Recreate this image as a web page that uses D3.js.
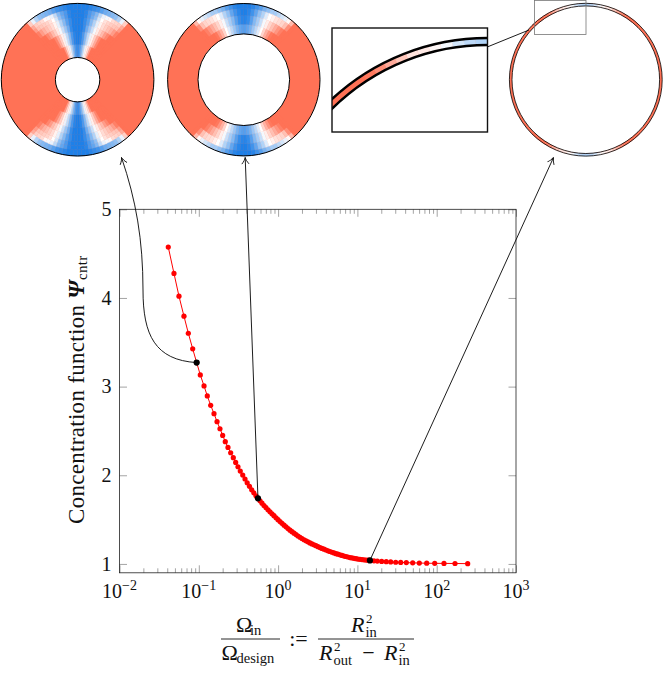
<!DOCTYPE html>
<html><head><meta charset="utf-8">
<script src="https://cdnjs.cloudflare.com/ajax/libs/d3/7.8.5/d3.min.js"></script>
<style>html,body{margin:0;padding:0;background:#fff}svg{display:block}text{font-family:"Liberation Serif",serif;fill:#111}</style>
</head><body><svg id="c" width="664" height="673"></svg>
<script>
// log10 of Omega_in / Omega_design
const logOmega = [-1.385,-1.313,-1.250,-1.187,-1.132,-1.077,-1.027,-0.981,-0.934,-0.893,-0.850,-0.808,-0.770,-0.733,-0.699,-0.666,-0.632,-0.598,-0.565,-0.535,-0.506,-0.477,-0.446,-0.417,-0.390,-0.361,-0.333,-0.306,-0.279,-0.254,-0.228,-0.203,-0.178,-0.153,-0.127,-0.102,-0.077,-0.052,-0.026,-0.001,0.024,0.049,0.075,0.100,0.125,0.150,0.175,0.201,0.226,0.251,0.276,0.301,0.327,0.352,0.377,0.402,0.427,0.453,0.478,0.503,0.528,0.553,0.579,0.604,0.629,0.654,0.680,0.705,0.730,0.755,0.780,0.806,0.831,0.856,0.881,0.906,0.932,0.957,0.982,1.007,1.032,1.058,1.083,1.108,1.133,1.158,1.209,1.251,1.306,1.364,1.420,1.483,1.546,1.617,1.697,1.781,1.874,1.975,2.092,2.231,2.391];
const psiCntr = [4.574,4.277,4.020,3.794,3.602,3.426,3.271,3.132,3.008,2.895,2.789,2.695,2.605,2.525,2.450,2.379,2.314,2.254,2.198,2.145,2.096,2.047,2.002,1.958,1.915,1.875,1.836,1.802,1.768,1.740,1.712,1.685,1.659,1.634,1.610,1.588,1.565,1.544,1.521,1.499,1.478,1.458,1.437,1.418,1.399,1.381,1.364,1.347,1.331,1.315,1.301,1.287,1.273,1.261,1.249,1.237,1.226,1.216,1.206,1.195,1.185,1.175,1.166,1.157,1.148,1.140,1.132,1.124,1.116,1.110,1.103,1.096,1.089,1.084,1.078,1.072,1.068,1.063,1.059,1.055,1.052,1.049,1.046,1.044,1.042,1.040,1.035,1.032,1.028,1.025,1.023,1.019,1.017,1.015,1.012,1.010,1.008,1.007,1.006,1.005,1.003];
const highlightIdx = [6, 29, 85];
const xTickExp = [-2,-1,0,1,2,3];
const yTicks = [1,2,3,4,5];
// field values, quadrant columns every 3 degrees from the pole; rows outermost ring first
const disc1Rings = [76.3,70,66,62,55,48,35,22.2];
const disc1Field = [
 [-1,-1,-1,-.95,-.9,-.85,-.75,-.65,-.6,-.55,-.5,-.35,-.1,.35,1],
 [-1,-1,-.95,-.8,-.7,-.55,-.3,-.1,-.05,.05,.25,.3,.35,.6,1],
 [-1,-1,-.95,-.8,-.65,-.5,-.2,0,.2,.3,.35,.4,.45,.7,1],
 [-1,-1,-.9,-.75,-.55,-.35,-.12,.08,.25,.35,.45,.55,.7,.9,1],
 [-1,-1,-.9,-.65,-.45,-.25,-.05,.15,.35,.5,.7,.85,1,1,1],
 [-1,-.95,-.8,-.55,-.3,-.1,.1,.35,.6,.85,1,1,1,1,1],
 [-.9,-.8,-.6,-.35,-.1,.1,.3,.7,1,1,1,1,1,1,1]];
const disc2Rings = [76.2,71,64,55,45.8];
const disc2Field = [
 [-1,-1,-.95,-.85,-.75,-.6,-.5,-.4,-.4,-.3,-.2,-.1,.05,.5,1],
 [-1,-.95,-.85,-.7,-.5,-.35,-.15,0,.1,.2,.25,.3,.45,.8,1],
 [-.95,-.9,-.75,-.55,-.4,-.25,-.05,.12,.3,.45,.6,.75,.9,1,1],
 [-.75,-.7,-.6,-.45,-.3,-.15,0,.3,.55,.75,.95,1,1,1,1]];
const disc3Field = [[-.35,-.3,-.2,-.05,.05,.15,.2,.4,.6,.8,.95,1,1,1,1]];

const svg = d3.select("#c");
const color = d3.scaleLinear().domain([-1,0,1]).range(["#1e80e8","#ffffff","#ff7256"]);
const stepA = Math.PI/60;

function drawField(g, rings, field){
  const R = rings[0], r = rings[rings.length-1];
  const arc = d3.arc();
  g.append("path").attr("fill",color(1)).attr("d",arc({innerRadius:r,outerRadius:R,startAngle:0,endAngle:2*Math.PI}));
  const cells=[];
  field.forEach((row,i)=>row.forEach((v,j)=>{
    [[1,0],[-1,0],[1,1],[-1,1]].forEach(([sx,flip])=>{
      let a0=j*stepA,a1=(j+1)*stepA;
      if(flip){a0=Math.PI-a0;a1=Math.PI-a1;}
      cells.push({innerRadius:rings[i+1],outerRadius:rings[i],startAngle:sx*a0,endAngle:sx*a1,v});
    });
  }));
  g.selectAll("path.cell").data(cells).join("path").attr("class","cell")
    .attr("d",arc).attr("fill",d=>color(d.v)).attr("stroke",d=>color(d.v)).attr("stroke-width",.4);
}
function outline(g,rad,w){ rad.forEach(q=>g.append("circle").attr("r",q).attr("fill","none").attr("stroke","#000").attr("stroke-width",w)); }

const cy=79.7;
const d1=svg.append("g").attr("transform",`translate(77.6,${cy})`);
drawField(d1,disc1Rings,disc1Field); outline(d1,[76.3,22.2],1);
const d2=svg.append("g").attr("transform",`translate(243.8,${cy})`);
drawField(d2,disc2Rings,disc2Field); outline(d2,[76.2,45.8],1);
const d3g=svg.append("g").attr("transform",`translate(585.8,${cy})`);
drawField(d3g,[76.4,73.8],disc3Field); outline(d3g,[76.4,73.8],.8);

svg.append("rect").attr("x",534.5).attr("y",.5).attr("width",51.5).attr("height",34).attr("fill","none").attr("stroke","#777").attr("stroke-width",.8);
svg.append("line").attr("x1",487.7).attr("y1",46.8).attr("x2",529).attr("y2",30).attr("stroke","#000").attr("stroke-width",.9);
const defs=svg.append("defs");
defs.append("clipPath").attr("id","ins").append("rect").attr("x",332).attr("y",28).attr("width",155.5).attr("height",104);
const ig=svg.append("g").attr("clip-path","url(#ins)").append("g").attr("transform","translate(487.5,266.7)");
drawField(ig,[228.7,221.7],disc3Field); outline(ig,[228.7,221.7],2.5);
svg.append("rect").attr("x",332).attr("y",28).attr("width",155.5).attr("height",104).attr("fill","none").attr("stroke","#111").attr("stroke-width",1.4);

// plot
const X=d3.scaleLog().domain([1e-2,1e3]).range([119.5,516]);
const Y=d3.scaleLinear().domain([.9,5]).range([572.8,209.3]);
const tickColor="#666";
const noLabel=()=>"";
function styleAxis(g){ g.select(".domain").remove(); g.selectAll("line").attr("stroke",tickColor).attr("stroke-width",.6); g.selectAll("text").remove(); }
const major=xTickExp.map(e=>Math.pow(10,e));
const minor=[]; xTickExp.slice(0,-1).forEach(e=>d3.range(2,10).forEach(m=>minor.push(m*Math.pow(10,e))));
[[d3.axisBottom,572.8],[d3.axisTop,209.3]].forEach(([ax,y])=>{
  svg.append("g").attr("transform",`translate(0,${y})`).call(ax(X).tickValues(major).tickSize(-7.5).tickFormat(noLabel)).call(styleAxis);
  svg.append("g").attr("transform",`translate(0,${y})`).call(ax(X).tickValues(minor).tickSize(-4.5).tickFormat(noLabel)).call(styleAxis);
});
svg.append("g").attr("transform","translate(119.5,0)").call(d3.axisLeft(Y).tickValues(yTicks).tickSize(-7.5).tickFormat(noLabel)).call(styleAxis);
svg.append("g").attr("transform","translate(516,0)").call(d3.axisRight(Y).tickValues(yTicks).tickSize(-7.5).tickFormat(noLabel)).call(styleAxis);
svg.append("rect").attr("x",119.5).attr("y",209.3).attr("width",396.5).attr("height",363.5).attr("fill","none").attr("stroke","#222").attr("stroke-width",.8);

// tick labels
xTickExp.forEach(e=>{
  const t=svg.append("text").attr("x",X(Math.pow(10,e))).attr("y",598).attr("text-anchor","middle").attr("font-size",20);
  t.append("tspan").text("10");
  t.append("tspan").attr("dy",-8).attr("font-size",14).text(e<0?"\u2212"+(-e):e);
});
yTicks.forEach(v=>svg.append("text").attr("x",111.5).attr("y",Y(v)+6.8).attr("text-anchor","end").attr("font-size",20).text(v));

// series
const pts=logOmega.map((l,i)=>({x:X(Math.pow(10,l)),y:Y(psiCntr[i])}));
svg.append("path").attr("d",d3.line().x(d=>d.x).y(d=>d.y)(pts)).attr("fill","none").attr("stroke","#f00").attr("stroke-width",1);
svg.append("g").selectAll("circle").data(pts).join("circle").attr("cx",d=>d.x).attr("cy",d=>d.y).attr("r",2.6).attr("fill","#f00");

// arrows
defs.append("marker").attr("id","ah").attr("viewBox","-8 -5 10 10").attr("refX",0).attr("refY",0).attr("markerWidth",10).attr("markerHeight",10).attr("markerUnits","userSpaceOnUse").attr("orient","auto")
  .append("path").attr("d","M-6.5,-3.6 C-4,-1.5 -2,-.5 0,0 C-2,.5 -4,1.5 -6.5,3.6").attr("fill","none").attr("stroke","#111").attr("stroke-width",.9);
const hp=highlightIdx.map(i=>pts[i]);
const p0=d3.path(); p0.moveTo(hp[0].x,hp[0].y); p0.bezierCurveTo(155,360,143,335,143,290); p0.bezierCurveTo(143,240,136,200,121.5,157.5);
const p1=d3.path(); p1.moveTo(hp[1].x,hp[1].y); p1.lineTo(245.2,157.5);
const p2=d3.path(); p2.moveTo(hp[2].x,hp[2].y); p2.lineTo(553.5,157.5);
[p0,p1,p2].forEach(p=>svg.append("path").attr("d",p.toString()).attr("fill","none").attr("stroke","#111").attr("stroke-width",.95).attr("marker-end","url(#ah)"));
svg.append("g").selectAll("circle").data(hp).join("circle").attr("cx",d=>d.x).attr("cy",d=>d.y).attr("r",3.1).attr("fill","#000");

// y label
const yl=svg.append("text").attr("transform","translate(83.5,524) rotate(-90)").attr("font-size",23).attr("letter-spacing",.3);
yl.append("tspan").text("Concentration function ");
yl.append("tspan").attr("font-style","italic").attr("font-weight","bold").text("\u03A8");
yl.append("tspan").attr("dy",3).attr("font-size",15).text("cntr");

// x label
function put(x,y,txt,size,italic,anchor){
  const t=svg.append("text").attr("x",x).attr("y",y).attr("font-size",size).text(txt);
  if(italic)t.attr("font-style","italic");
  if(anchor)t.attr("text-anchor",anchor);
}
const bar=(a,b)=>svg.append("line").attr("x1",a).attr("x2",b).attr("y1",639).attr("y2",639).attr("stroke","#111").attr("stroke-width",.9);
bar(221,280); bar(318,414);
const big=22, small=14.5, sup=13;
put(236,632,"\u03A9",big); put(250,635,"in",small);
put(221.5,660,"\u03A9",big); put(236.5,663,"design",small);
put(298.5,646,":=",big,false,"middle");
put(351,632,"R",big,true); put(365.5,637,"in",small); put(366,623,"2",sup);
put(319,660,"R",big,true); put(333.5,665,"out",small); put(334,651,"2",sup);
put(368.5,660,"\u2212",big,false,"middle");
put(384,660,"R",big,true); put(398.5,665,"in",small); put(399,651,"2",sup);
</script></body></html>
